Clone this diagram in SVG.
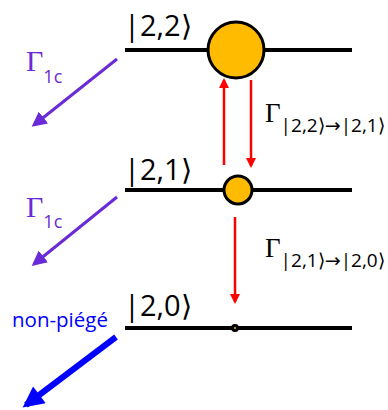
<svg xmlns="http://www.w3.org/2000/svg" width="388" height="410" viewBox="0 0 388 410">
<style>
.lvl{stroke:#000;stroke-width:4;fill:none}
.ket{font-family:"Open Sans","Noto Sans",sans-serif;font-size:29px;fill:#000}
.gam{font-family:"Liberation Serif","Times New Roman",serif;font-size:27px}
.gam2{font-family:"Liberation Serif","Times New Roman",serif;font-size:30px}
.sub{font-family:"Open Sans","Noto Sans",sans-serif;font-size:19px}
.sub2{font-family:"Open Sans","Noto Sans",sans-serif;font-size:18px}
.arw{font-family:"DejaVu Sans",sans-serif}
.pur{fill:#6a2ad6}
.red{stroke:#ff0000;stroke-width:2.5;fill:none}
.prp{stroke:#6a2ad6;stroke-width:3;fill:none}
.pop{fill:#ffbb00;stroke:#000;stroke-width:3}
</style>
<defs>
<marker id="ar" viewBox="0 0 10 10" refX="8" refY="5" markerWidth="4" markerHeight="5" markerUnits="strokeWidth" orient="auto">
<path d="M0,0 L10,5 L0,10 z" fill="#ff0000"/>
</marker>
<marker id="ap" viewBox="0 0 10 10" refX="8" refY="5" markerWidth="5" markerHeight="5" markerUnits="strokeWidth" orient="auto">
<path d="M0,0 L10,5 L0,10 z" fill="#6a2ad6"/>
</marker>
<marker id="ab" viewBox="0 0 10 10" refX="8" refY="5" markerWidth="4" markerHeight="3.5" markerUnits="strokeWidth" orient="auto">
<path d="M0,0 L10,5 L0,10 z" fill="#0000ff"/>
</marker>
</defs>
<g id="level22">
<line class="lvl" x1="125" y1="50" x2="352" y2="50"/>
<text class="ket" x="124" y="36">|2,2⟩</text>
<circle class="pop" cx="236" cy="50" r="28"/>
</g>
<g id="level21">
<line class="lvl" x1="125" y1="190" x2="352" y2="190"/>
<text class="ket" x="124" y="180">|2,1⟩</text>
<circle class="pop" cx="238" cy="190" r="14"/>
</g>
<g id="level20">
<line class="lvl" x1="125" y1="328" x2="352" y2="328"/>
<text class="ket" x="124" y="316">|2,0⟩</text>
<circle class="pop" cx="235" cy="328" r="2.5" stroke-width="2"/>
</g>
<g id="labels">
<text class="gam2 pur" x="26" y="71">Γ<tspan class="sub2" dy="12">1c</tspan></text>
<text class="gam2 pur" x="26" y="217">Γ<tspan class="sub2" dy="11">1c</tspan></text>
<text x="265" y="122" class="gam">Γ<tspan class="sub" dy="10">|2,2⟩<tspan class="arw">→</tspan>|2,1⟩</tspan></text>
<text x="265" y="257" class="gam">Γ<tspan class="sub" dy="10">|2,1⟩<tspan class="arw">→</tspan>|2,0⟩</tspan></text>
<text x="12" y="327" font-family="Open Sans, Noto Sans, sans-serif" font-size="20.5" fill="#0000ff">non-piégé</text>
</g>
<g id="connectors">
<line class="red" x1="224" y1="165" x2="224" y2="80" marker-end="url(#ar)"/>
<line class="red" x1="251" y1="80" x2="251" y2="166" marker-end="url(#ar)"/>
<line class="red" x1="235" y1="217" x2="235" y2="302" marker-end="url(#ar)"/>
<line class="prp" x1="117" y1="59" x2="34" y2="125" marker-end="url(#ap)"/>
<line class="prp" x1="117" y1="197" x2="34" y2="264" marker-end="url(#ap)"/>
<line x1="116" y1="337" x2="26" y2="405" stroke="#0000ff" stroke-width="6" marker-end="url(#ab)"/>
</g>
</svg>
